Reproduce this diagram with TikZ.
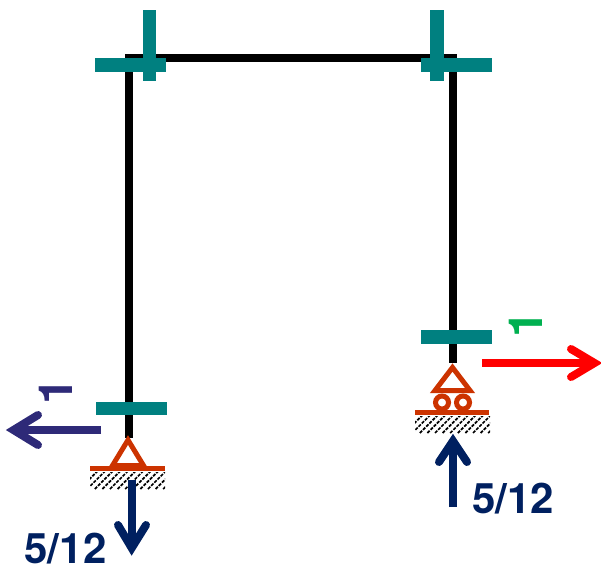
\documentclass[tikz,border=0pt]{standalone}
\usepackage{fontspec}
\setmainfont{TeX Gyre Heros}
\definecolor{teal1}{HTML}{008080}
\definecolor{sup}{HTML}{CC3300}
\definecolor{navy1}{HTML}{002060}
\definecolor{indigo1}{HTML}{2E2A78}
\definecolor{green1}{HTML}{00B050}
\tikzset{
  x=1pt,y=-1pt,
  member/.style={line width=8.3pt,black},
  tealbar/.style={fill=teal1,draw=none},
  suppt/.style={draw=sup,line width=5pt,miter limit=10},
  force/.style={line width=8pt},
  barb/.style={line width=8pt,line cap=round,line join=miter},
  hatch/.style={line width=1.7pt,dash pattern=on 3.2pt off 1.3pt},
  lab/.style={font=\bfseries\fontsize{42}{42}\selectfont,text=navy1,inner sep=0pt},
  one/.style={font=\bfseries\fontsize{47}{47}\selectfont,inner sep=0pt,rotate=90}
}
\newcommand{\hatchbox}[4]{%
  \begin{scope}
    \clip (#1,#2) rectangle (#3,#4);
    \foreach \k in {0,7.6,...,110} {
      \draw[hatch] (#1+\k-18,#4) -- (#1+\k,#2-1);
    }
  \end{scope}}
\begin{document}
\begin{tikzpicture}
\useasboundingbox (0,0) rectangle (601,569);
% frame
\draw[member,line join=miter] (129,438) -- (129,58) -- (453,58) -- (453,363);
% teal bars
\fill[tealbar] (95,58.5) rectangle (166,72);
\fill[tealbar] (142.5,10) rectangle (156,81);
\fill[tealbar] (421,58.5) rectangle (492,72);
\fill[tealbar] (430,10) rectangle (443.5,81);
\fill[tealbar] (96,401.5) rectangle (167,414.7);
\fill[tealbar] (420.5,330) rectangle (491.7,343.5);
% left support
\draw[suppt,fill=white] (128,440) -- (112.5,465.5) -- (143.5,465.5) -- cycle;
\fill[sup] (90,466) rectangle (165,471);
\hatchbox{90}{472}{165}{489}
% right support
\draw[suppt,fill=white] (452.5,367.5) -- (435,390.5) -- (470,390.5) -- cycle;
\draw[suppt] (442,402.5) circle (6.5);
\draw[suppt] (463,402.5) circle (6.5);
\fill[sup] (415,410) rectangle (489,415);
\hatchbox{415}{416}{490}{433}
% forces
\coordinate (Ls) at (101,430); \coordinate (Lt) at (15,430);
\draw[force,indigo1] (Ls) -- (Lt);
\draw[barb,indigo1] (38,415) -- (13.5,430) -- (38,445);
\coordinate (Ds) at (131.7,480); \coordinate (Dt) at (131.7,548);
\draw[force,navy1] (Ds) -- (Dt);
\draw[barb,navy1] (118,525) -- (131.7,548) -- (146,525);
\coordinate (Us) at (453,507); \coordinate (Ut) at (453,441);
\draw[force,navy1] (Us) -- (Ut);
\draw[barb,navy1] (439,462) -- (453,441) -- (467,462);
\coordinate (Rs) at (482,363); \coordinate (Rt) at (594,363);
\draw[force,red] (Rs) -- (Rt);
\draw[barb,red] (571,349) -- (594.5,363) -- (571,377);
% labels
\node[lab,anchor=center] (t1) at (65.5,549) {5/12};
\node[lab,anchor=center] (t2) at (513,499) {5/12};
\node[one,text=indigo1] (o1) at (56,391) {1};
\node[one,text=green1] (o2) at (526,324) {1};
\end{tikzpicture}
\end{document}
